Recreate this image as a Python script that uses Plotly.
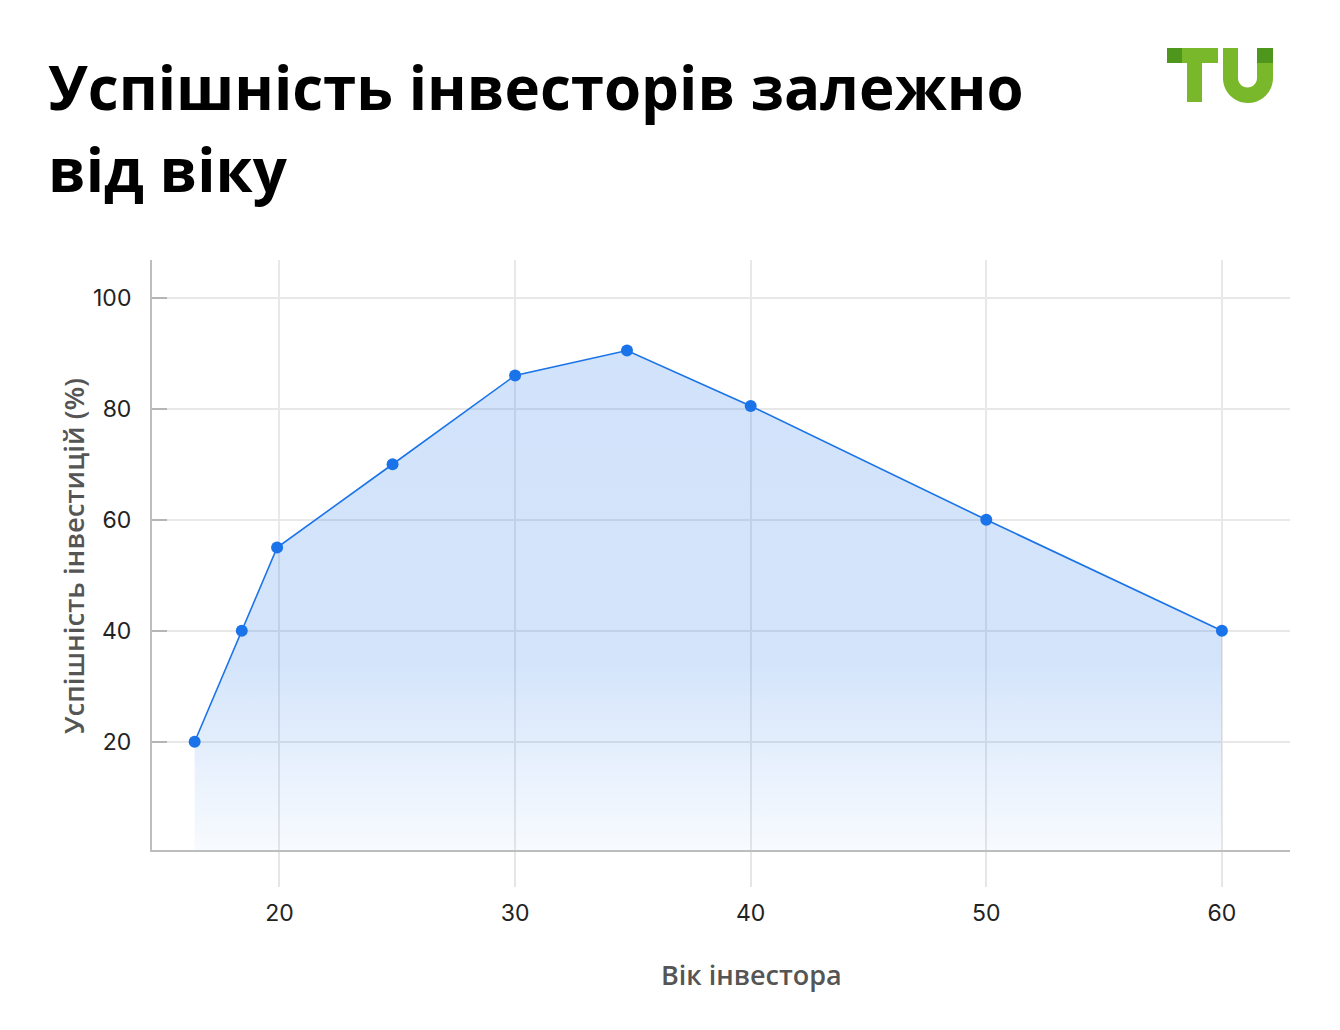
import plotly.graph_objects as go

# ---- data ----
ages = [16.4, 18.4, 19.9, 24.8, 30, 34.75, 40, 50, 60]
success = [20, 40, 55, 70, 86, 90.5, 80.5, 60, 40]
x_ticks = [20, 30, 40, 50, 60]
y_ticks = [20, 40, 60, 80, 100]

title_lines = ["Успішність інвесторів залежно", "від віку"]
x_title = "Вік інвестора"
y_title = "Успішність інвестицій (%)"

OFF = 8  # default page body margin
W, H = 1340 - OFF, 1030 - OFF
PL, PR, PT, PB = 152, 1290, 260, 850  # plot area in page pixels
L, R, T, B = PL - OFF, 1340 - PR, PT - OFF, 1030 - PB
PW, PH = PR - PL, PB - PT


def px(x):
    return (x - PL) / PW


def py(y):
    return (PB - y) / PH


fig = go.Figure()
fig.add_trace(go.Scatter(
    x=ages, y=success, mode="lines+markers",
    line=dict(color="#1a73e8", width=1.6),
    marker=dict(color="#1a73e8", size=12),
    fill="tozeroy",
    fillgradient=dict(
        type="vertical", start=0, stop=max(success),
        colorscale=[[0, "rgba(26,115,232,0.03)"], [0.12, "rgba(26,115,232,0.08)"],
                    [0.38, "rgba(26,115,232,0.19)"], [1, "rgba(26,115,232,0.20)"]],
    ),
    hoverinfo="skip", showlegend=False,
))

fig.update_layout(
    width=W, height=H,
    margin=dict(l=L, r=R, t=T, b=B, pad=0),
    paper_bgcolor="white", plot_bgcolor="white",
    font=dict(family="Inter", color="#222"),
    xaxis=dict(
        range=[14.59, 62.89], tickvals=x_ticks, ticks="outside", ticklen=35,
        tickcolor="#e6e6e6", tickwidth=1.5,
        showgrid=True, gridcolor="#e8e8e8", gridwidth=1.5,
        showline=True, linecolor="#bdbdbd", linewidth=2,
        zeroline=False, tickfont=dict(size=23, family="Inter", color="#222"),
        ticklabelstandoff=6,
    ),
    yaxis=dict(
        range=[0.5, 106.8], tickvals=y_ticks, ticks="inside", ticklen=15,
        tickcolor="#b5b5b5", tickwidth=2,
        showgrid=True, gridcolor="#e8e8e8", gridwidth=1.5,
        showline=True, linecolor="#bdbdbd", linewidth=2,
        zeroline=False, tickfont=dict(size=23, family="Inter", color="#222"),
        ticklabelstandoff=14,
    ),
)

# title
for i, line in enumerate(title_lines):
    fig.add_annotation(
        text=line, xref="paper", yref="paper", x=px(46), y=py(130 + i * 82),
        xanchor="left", yanchor="bottom", showarrow=False,
        font=dict(family="Open Sans", size=60, color="#000", weight=700),
    )

# axis titles
fig.add_annotation(
    text=x_title, xref="paper", yref="paper", x=px(751), y=py(975),
    xanchor="center", yanchor="middle", showarrow=False,
    font=dict(family="Open Sans", size=27, color="#555", weight=600),
)
fig.add_annotation(
    text=y_title, xref="paper", yref="paper", x=px(73), y=py(556),
    xanchor="center", yanchor="middle", showarrow=False, textangle=-90,
    font=dict(family="Open Sans", size=27.5, color="#555", weight=600),
)

# logo
LIGHT, DARK = "#78b82a", "#4f961c"


def rect(x0, y0, x1, y1, color):
    fig.add_shape(type="rect", xref="paper", yref="paper",
                  x0=px(x0), x1=px(x1), y0=py(y1), y1=py(y0),
                  fillcolor=color, line=dict(width=0), layer="above")


rect(1167, 48, 1182, 63, DARK)
rect(1182, 48, 1218, 63, LIGHT)
rect(1187, 48, 1202, 102, LIGHT)

k = 0.5523
ox0, ox1, oy, orad = 1223, 1273, 78, 25
ix0, ix1, irad = 1238, 1257, 9.5
cx = (ox0 + ox1) / 2
icx = (ix0 + ix1) / 2


def P(x, y):
    return f"{px(x):.5f},{py(y):.5f}"


path = (
    f"M {P(ox0, 48)} L {P(ox0, oy)} "
    f"C {P(ox0, oy + k * orad)} {P(cx - k * orad, oy + orad)} {P(cx, oy + orad)} "
    f"C {P(cx + k * orad, oy + orad)} {P(ox1, oy + k * orad)} {P(ox1, oy)} "
    f"L {P(ox1, 48)} L {P(ix1, 48)} L {P(ix1, oy)} "
    f"C {P(ix1, oy + k * irad)} {P(icx + k * irad, oy + irad)} {P(icx, oy + irad)} "
    f"C {P(icx - k * irad, oy + irad)} {P(ix0, oy + k * irad)} {P(ix0, oy)} "
    f"L {P(ix0, 48)} Z"
)
fig.add_shape(type="path", xref="paper", yref="paper", path=path,
              fillcolor=LIGHT, line=dict(width=0), layer="above")
rect(1257, 48, 1273, 63, DARK)

fig.write_html("out.html")
